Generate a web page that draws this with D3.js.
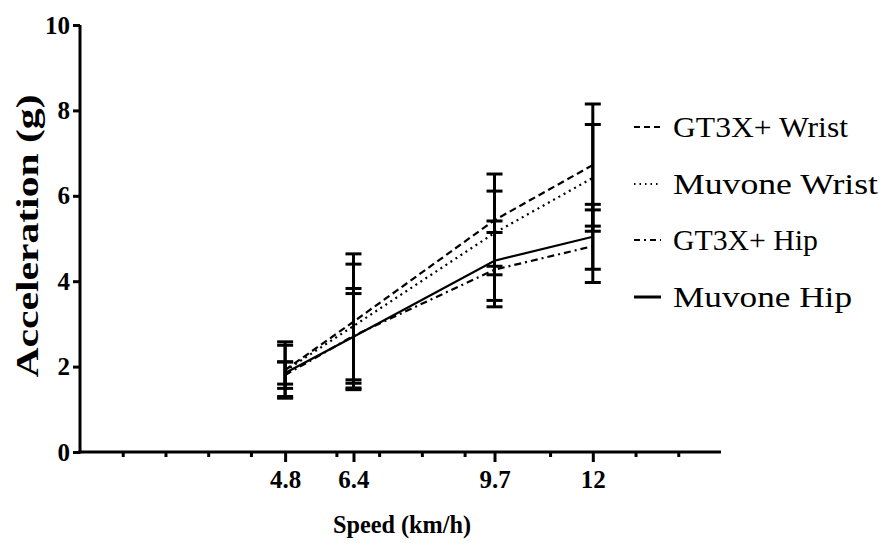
<!DOCTYPE html>
<html>
<head>
<meta charset="utf-8">
<script src="https://cdn.jsdelivr.net/npm/d3@7"></script>
<style>
  html, body { margin: 0; padding: 0; background: #fff; }
  svg { display: block; }
</style>
</head>
<body>
<svg id="chart" width="882" height="548"></svg>
<script>
// ---- data ----
const speeds = [4.8, 6.4, 9.7, 12];
const speedLabels = ["4.8", "6.4", "9.7", "12"];
const minorTicks = [1, 2, 3, 4, 6, 7, 8, 9, 11, 13, 14];
const yTicks = [0, 2, 4, 6, 8, 10];
const seriesNames = ["GT3X+ Wrist", "Muvone Wrist", "GT3X+ Hip", "Muvone Hip"];
const gt3xWristMean = [1.92, 3.05, 5.43, 6.72];
const gt3xWristSD   = [0.66, 1.59, 1.08, 1.43];
const muvoneWristMean = [1.90, 2.95, 5.13, 6.42];
const muvoneWristSD   = [0.60, 1.45, 0.98, 1.25];
const gt3xHipMean = [1.80, 2.72, 4.27, 4.82];
const gt3xHipSD   = [0.31, 1.11, 0.87, 0.85];
const muvoneHipMean = [1.85, 2.70, 4.48, 5.04];
const muvoneHipSD   = [0.26, 1.01, 0.93, 0.76];

const dashes = ["7,4", "2,4", "7,4,2,4", null];
const legendDashes = ["6,4", "1.5,4", "6,4,2,4", null];
const series = [
  {name: seriesNames[0], mean: gt3xWristMean, sd: gt3xWristSD, dash: dashes[0]},
  {name: seriesNames[1], mean: muvoneWristMean, sd: muvoneWristSD, dash: dashes[1]},
  {name: seriesNames[2], mean: gt3xHipMean, sd: gt3xHipSD, dash: dashes[2]},
  {name: seriesNames[3], mean: muvoneHipMean, sd: muvoneHipSD, dash: dashes[3]}
];

// ---- layout ----
const svg = d3.select("#chart");
const x = d3.scaleLinear().domain([0, 15]).range([80, 721]);
const y = d3.scaleLinear().domain([0, 10]).range([452, 25]);
const serif = "'Liberation Serif', 'Times New Roman', serif";

// lines
const line = d3.line().x((d, i) => x(speeds[i])).y(d => y(d));
series.forEach(s => {
  svg.append("path")
    .attr("d", line(s.mean))
    .attr("fill", "none")
    .attr("stroke", "#000")
    .attr("stroke-width", 2.2)
    .attr("stroke-dasharray", s.dash);
});

// error bars
const capW = 8;
series.forEach(s => {
  const g = svg.append("g").attr("stroke", "#000").attr("stroke-width", 3);
  s.mean.forEach((m, i) => {
    const cx = x(speeds[i]);
    const hi = y(m + s.sd[i]), lo = y(m - s.sd[i]);
    g.append("line").attr("x1", cx).attr("x2", cx).attr("y1", hi).attr("y2", lo);
    g.append("line").attr("x1", cx - capW).attr("x2", cx + capW).attr("y1", hi).attr("y2", hi);
    g.append("line").attr("x1", cx - capW).attr("x2", cx + capW).attr("y1", lo).attr("y2", lo);
  });
});

// x axis minor ticks
const xMinor = svg.append("g").attr("transform", `translate(0,${y(0)})`)
  .call(d3.axisBottom(x).tickValues(minorTicks).tickSize(5).tickFormat("").tickSizeOuter(0));
xMinor.select(".domain").remove();
xMinor.selectAll("line").attr("stroke-width", 3);

// x axis major
const xAxis = svg.append("g").attr("transform", `translate(0,${y(0)})`)
  .call(d3.axisBottom(x).tickValues(speeds).tickSize(10).tickSizeOuter(0)
    .tickFormat((d, i) => speedLabels[i]).tickPadding(8));
xAxis.select(".domain").attr("stroke-width", 3).attr("d", `M${x(0) - 1.5},0H${x(15)}`);
xAxis.selectAll("line").attr("stroke-width", 3);
xAxis.selectAll("text").attr("font-family", serif).attr("font-weight", "bold")
  .attr("font-size", 25).attr("fill", "#000");

// y axis
const yAxis = svg.append("g").attr("transform", `translate(${x(0)},0)`)
  .call(d3.axisLeft(y).tickValues(yTicks).tickSize(7).tickSizeOuter(0).tickPadding(3));
yAxis.select(".domain").attr("stroke-width", 3).attr("d", `M0,${y(10)}V${y(0) + 1.5}`);
yAxis.selectAll("line").attr("stroke-width", 3);
yAxis.selectAll("text").attr("font-family", serif).attr("font-weight", "bold")
  .attr("font-size", 25).attr("fill", "#000");

// axis titles
svg.append("text")
  .attr("x", 402).attr("y", 533)
  .attr("text-anchor", "middle")
  .attr("font-family", serif).attr("font-weight", "bold").attr("font-size", 26)
  .attr("textLength", 138).attr("lengthAdjust", "spacingAndGlyphs")
  .text("Speed (km/h)");
svg.append("text")
  .attr("transform", `translate(38,236) rotate(-90)`)
  .attr("text-anchor", "middle")
  .attr("font-family", serif).attr("font-weight", "bold").attr("font-size", 31)
  .attr("textLength", 283).attr("lengthAdjust", "spacingAndGlyphs")
  .text("Acceleration (g)");

// legend
const legend = svg.append("g");
const legendY = [127, 184, 240, 297];
const legendWidths = [175, 205, 145, 179];
series.forEach((s, i) => {
  legend.append("line")
    .attr("x1", 634).attr("x2", 661)
    .attr("y1", legendY[i]).attr("y2", legendY[i])
    .attr("stroke", "#000").attr("stroke-width", s.dash ? 2 : 3)
    .attr("stroke-dasharray", legendDashes[i]);
  legend.append("text")
    .attr("x", 673).attr("y", legendY[i] + 10)
    .attr("font-family", serif).attr("font-size", 30).attr("fill", "#000")
    .attr("textLength", legendWidths[i]).attr("lengthAdjust", "spacingAndGlyphs")
    .text(s.name);
});
</script>
</body>
</html>
